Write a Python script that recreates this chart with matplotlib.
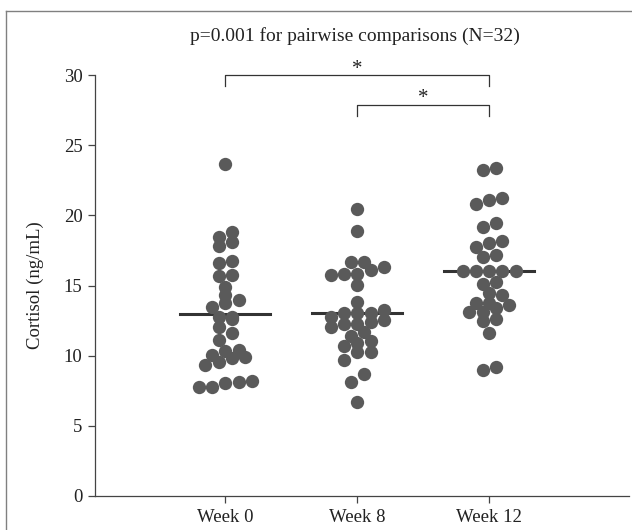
import numpy as np
import matplotlib
matplotlib.use("Agg")
import matplotlib.pyplot as plt
from matplotlib.lines import Line2D

plt.rcParams["font.family"] = ["Liberation Serif", "DejaVu Serif"]

# Cortisol values (ng/mL), N=32 per visit
labels = ["Week 0", "Week 8", "Week 12"]
week0 = [23.66, 18.80, 18.48, 18.13, 17.82, 16.75, 16.58, 15.75, 15.70, 14.92,
         14.33, 13.97, 13.73, 13.49, 12.78, 12.78, 12.59, 12.07, 11.60, 11.12,
         10.41, 10.33, 10.05, 9.88, 9.81, 9.57, 9.34, 8.17, 8.13, 8.08,
         7.79, 7.79]
week8 = [20.43, 18.89, 16.70, 16.66, 16.30, 16.11, 15.80, 15.80, 15.75, 15.04,
         13.85, 13.26, 13.07, 13.07, 13.07, 12.78, 12.54, 12.42, 12.26, 12.24,
         12.07, 11.71, 11.43, 11.05, 10.88, 10.71, 10.24, 10.24, 9.69, 8.67,
         8.15, 6.72]
week12 = [23.36, 23.24, 21.22, 21.10, 20.81, 19.43, 19.19, 18.18, 18.01, 17.73,
          17.18, 17.06, 16.04, 16.04, 16.04, 16.04, 16.04, 15.27, 15.11, 14.45,
          14.33, 13.78, 13.78, 13.61, 13.38, 13.14, 13.14, 12.62, 12.47, 11.64,
          9.22, 8.98]
medians = [12.95, 13.02, 16.04]

# significance brackets: (from group, to group, level, star)
brackets = [(0, 2, 30.0, "*"), (1, 2, 27.87, "*")]
title = "p=0.001 for pairwise comparisons (N=32)"


def row_offsets(values, row_height, step):
    """Prism-like scatter: group close values into rows, spread each row sideways"""
    values = np.asarray(values)
    order = np.argsort(values, kind="stable")
    offsets = np.zeros(len(values))
    rows, row = [], []
    for idx in order:
        if row and values[idx] - values[row[0]] > row_height:
            rows.append(row)
            row = []
        row.append(idx)
    rows.append(row)
    for r in rows:
        n = len(r)
        for i, idx in enumerate(r):
            offsets[idx] = (i - (n - 1) / 2) * step
    return offsets


fig = plt.figure(figsize=(6.32, 5.3), dpi=100)
ax = fig.add_axes([95 / 632, 34 / 530, 534 / 632, 421 / 530])

dot_color = "#5a5a5a"
line_color = "#444444"
positions = [1, 2, 3]

for pos, vals, med in zip(positions, [week0, week8, week12], medians):
    xs = pos + row_offsets(vals, 0.56, 0.101)
    ax.scatter(xs, vals, s=92, color=dot_color, linewidths=0, zorder=3)
    ax.plot([pos - 0.34, pos + 0.34], [med, med], color="#333333", lw=2.2, zorder=2)

for a, b, level, star in brackets:
    xa, xb = positions[a], positions[b]
    ax.plot([xa, xa, xb, xb], [level - 0.8, level, level, level - 0.8],
            color="#333333", lw=0.9, clip_on=False)
    ax.text((xa + xb) / 2, level + 0.1, star, ha="center", va="baseline",
            fontsize=15, color="#222222")

ax.set_xlim(0.012, 4.06)
ax.set_ylim(0, 30)
ax.set_yticks(range(0, 31, 5))
ax.set_xticks(positions)
ax.set_xticklabels(labels)
ax.tick_params(axis="both", labelsize=13.5, length=5, width=0.9, color=line_color,
               labelcolor="#222222", pad=4)
for side in ["top", "right"]:
    ax.spines[side].set_visible(False)
for side in ["left", "bottom"]:
    ax.spines[side].set_color(line_color)
    ax.spines[side].set_linewidth(0.9)

fig.text(355 / 632, 1 - 36 / 530, title, ha="center", va="center",
         fontsize=14, color="#222222")
fig.text(35 / 632, 1 - 285.5 / 530, "Cortisol (ng/mL)", rotation=90,
         ha="center", va="center", fontsize=13.5, color="#222222")

# outer panel frame (left and top edges only show in the crop)
frame_y = 1 - 11 / 530
frame_x = 5.5 / 632
fig.add_artist(Line2D([frame_x, frame_x], [0, frame_y], transform=fig.transFigure,
                      color="#808080", lw=1))
fig.add_artist(Line2D([frame_x, 1], [frame_y, frame_y], transform=fig.transFigure,
                      color="#808080", lw=1))

fig.savefig("out.png", dpi=100)
